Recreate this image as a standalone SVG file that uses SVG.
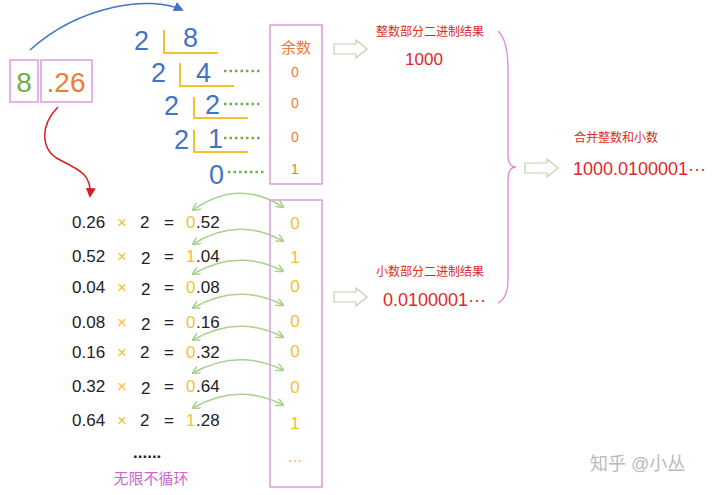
<svg xmlns="http://www.w3.org/2000/svg" width="720" height="495" viewBox="0 0 720 495">
<style>
text{font-family:"Liberation Sans","Noto Sans CJK SC",sans-serif}
.bl{fill:#4472C4;font-size:27px}
.yl{fill:none;stroke:#F2C12E;stroke-width:2}
.dt{stroke:#70AD47;stroke-width:2.5;stroke-dasharray:2.5 3}
.box{fill:none;stroke:#D98BDB;stroke-width:1.3}
.rem{fill:#ED7D31;font-size:14px;text-anchor:middle}
.fr{fill:#222;font-size:17px}
.x{fill:#F2C12E;font-size:17px}
.bit{fill:#F2C12E;font-size:17px;text-anchor:middle}
.red{fill:#E02828}
.ga{fill:none;stroke:#A9D18E;stroke-width:1.5;marker-start:url(#gs);marker-end:url(#ge)}
.ba{fill:#fff;stroke:#C8CCB0;stroke-width:1.2}
</style>
<defs>
<marker id="ge" markerWidth="8" markerHeight="8" refX="7" refY="4" orient="auto" markerUnits="userSpaceOnUse"><path d="M0,0 L8,4 L0,8" fill="none" stroke="#A9D18E" stroke-width="1.5"/></marker>
<marker id="gs" markerWidth="8" markerHeight="8" refX="1" refY="4" orient="auto" markerUnits="userSpaceOnUse"><path d="M8,0 L0,4 L8,8" fill="none" stroke="#A9D18E" stroke-width="1.5"/></marker>
<marker id="be" markerWidth="10" markerHeight="10" refX="8" refY="5" orient="auto" markerUnits="userSpaceOnUse"><path d="M0,0 L10,5 L0,10z" fill="#4472C4"/></marker>
<marker id="re" markerWidth="10" markerHeight="10" refX="8" refY="5" orient="auto" markerUnits="userSpaceOnUse"><path d="M0,0 L10,5 L0,10z" fill="#D42020"/></marker>
</defs>

<g id="number">
<rect class="box" x="10" y="60" width="28" height="42"/>
<rect class="box" x="41" y="60" width="51" height="42"/>
<text x="24" y="92" text-anchor="middle" fill="#70AD47" font-size="28">8</text>
<text x="66" y="92" text-anchor="middle" fill="#ED7D31" font-size="28">.26</text>
</g>

<g id="division">
<text class="bl" x="134" y="50">2</text><text class="bl" x="183" y="47">8</text>
<path class="yl" d="M164,30 V53 H218"/>
<text class="bl" x="151" y="82">2</text><text class="bl" x="196" y="82">4</text>
<path class="yl" d="M180,63 V86 H234"/>
<text class="bl" x="164" y="115">2</text><text class="bl" x="205" y="114">2</text>
<path class="yl" d="M194,97 V118 H248"/>
<text class="bl" x="174" y="149">2</text><text class="bl" x="208" y="148">1</text>
<path class="yl" d="M194,130 V152 H248"/>
<text class="bl" x="209" y="184">0</text>
<path class="dt" d="M224,71 H262 M224,104 H262 M224,138 H262 M228,172 H264"/>
</g>

<g id="remainders">
<rect class="box" x="270" y="25" width="52" height="159"/>
<text x="296" y="53" fill="#ED7D31" font-size="15" text-anchor="middle">余数</text>
<text class="rem" x="295" y="77">0</text>
<text class="rem" x="295" y="108">0</text>
<text class="rem" x="295" y="142">0</text>
<text class="rem" x="295" y="174">1</text>
</g>

<g id="fraction">
<g class="fr">
<text x="72" y="228">0.26</text><text x="72" y="262">0.52</text><text x="72" y="293">0.04</text><text x="72" y="328">0.08</text><text x="72" y="358">0.16</text><text x="72" y="392">0.32</text><text x="72" y="426">0.64</text>
<text x="140" y="228">2</text><text x="141" y="264">2</text><text x="141" y="295">2</text><text x="141" y="330">2</text><text x="140" y="358">2</text><text x="141" y="394">2</text><text x="140" y="426">2</text>
<text x="164" y="228">=</text><text x="164" y="262">=</text><text x="164" y="293">=</text><text x="164" y="328">=</text><text x="164" y="358">=</text><text x="164" y="392">=</text><text x="164" y="426">=</text>
<text x="196" y="228">.52</text><text x="196" y="262">.04</text><text x="196" y="293">.08</text><text x="196" y="328">.16</text><text x="196" y="358">.32</text><text x="196" y="392">.64</text><text x="196" y="426">.28</text>
</g>
<g class="x">
<text x="117" y="228">×</text><text x="117" y="262">×</text><text x="117" y="293">×</text><text x="117" y="328">×</text><text x="117" y="358">×</text><text x="117" y="392">×</text><text x="117" y="426">×</text>
<text x="186" y="228">0</text><text x="186" y="262">1</text><text x="186" y="293">0</text><text x="186" y="328">0</text><text x="186" y="358">0</text><text x="186" y="392">0</text><text x="186" y="426">1</text>
</g>
<text x="133" y="458" fill="#222" font-size="17" font-weight="bold">......</text>
<text x="151" y="484" fill="#CC66CC" font-size="15" text-anchor="middle">无限不循环</text>
</g>

<g id="bits">
<rect class="box" x="270" y="200" width="52" height="287"/>
<text class="bit" x="295" y="229">0</text><text class="bit" x="295" y="263">1</text><text class="bit" x="295" y="292">0</text><text class="bit" x="295" y="327">0</text><text class="bit" x="295" y="357">0</text><text class="bit" x="295" y="393">0</text><text class="bit" x="295" y="429">1</text>
<text class="bit" x="295" y="462" font-size="14">...</text>
</g>

<g id="results">
<text class="red" x="430" y="36" font-size="12" text-anchor="middle">整数部分二进制结果</text>
<text class="red" x="424" y="65" font-size="17" text-anchor="middle">1000</text>
<text class="red" x="430" y="276" font-size="12" text-anchor="middle">小数部分二进制结果</text>
<text class="red" x="383" y="306" font-size="18">0.0100001···</text>
<text class="red" x="616" y="142" font-size="12" text-anchor="middle">合并整数和小数</text>
<text class="red" x="573" y="175" font-size="18">1000.0100001···</text>
</g>

<g id="watermark">
<text x="590" y="470" fill="#BBBBBB" font-size="18">知乎 @小丛</text>
</g>

<g id="connectors">
<path d="M30,50 C80,5 150,-5 182,10" fill="none" stroke="#4472C4" stroke-width="1.5" marker-end="url(#be)"/>
<path d="M58,107 C40,125 40,150 60,160 C80,170 92,175 90,196" fill="none" stroke="#D42020" stroke-width="1.5" marker-end="url(#re)"/>
<path class="ga" d="M193,210 Q238,178 283,207"/>
<path class="ga" d="M193,244 Q238,216 283,241"/>
<path class="ga" d="M193,274 Q238,248 283,271"/>
<path class="ga" d="M193,308 Q238,282 283,305"/>
<path class="ga" d="M193,340 Q238,314 283,337"/>
<path class="ga" d="M193,373 Q238,348 283,370"/>
<path class="ga" d="M193,408 Q238,382 283,405"/>
<path d="M498,31 Q508,40 508,70 V155 Q508,167 516,167 Q508,167 508,180 V280 Q508,298 498,303" fill="none" stroke="#D98BDB" stroke-width="1.3"/>
<path class="ba" d="M334,44 H356 V40 L367,49 L356,58 V54 H334z"/>
<path class="ba" d="M334,292 H356 V288 L367,297 L356,306 V302 H334z"/>
<path class="ba" d="M525,163 H547 V159 L558,168 L547,177 V173 H525z"/>
</g>
</svg>
